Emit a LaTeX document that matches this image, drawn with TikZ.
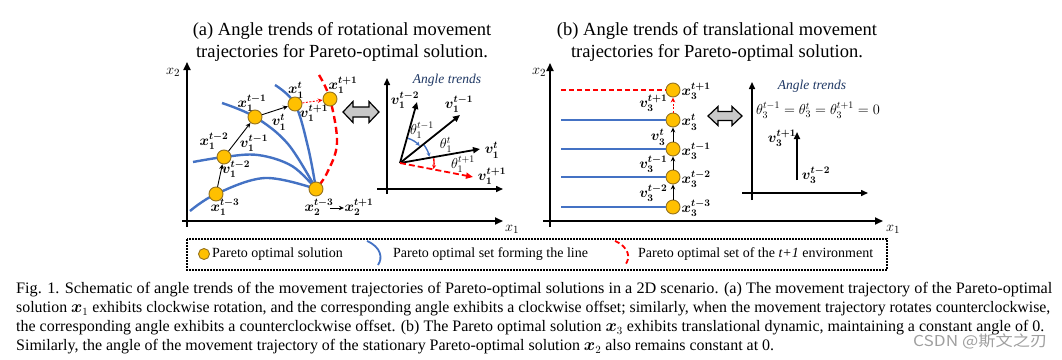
\documentclass[tikz,border=0pt]{standalone}
\usepackage{amsmath}
\usepackage{bm}
\usepackage{graphicx}
\usepackage{fontspec}
\setmainfont{Liberation Serif}
\newfontfamily\cjkfont{Noto Sans CJK SC}
\usetikzlibrary{arrows.meta}
\definecolor{paretoblue}{RGB}{68,114,196}
\definecolor{solfill}{RGB}{255,192,0}
\definecolor{soledge}{RGB}{150,115,30}
\definecolor{trendnavy}{RGB}{31,56,100}
\definecolor{swapgray}{RGB}{200,200,200}

\begin{document}
\begin{tikzpicture}[x=1pt, y=-1pt,
    solution/.style={circle, draw=soledge, fill=solfill, line width=0.9pt, minimum size=14pt, inner sep=0pt},
    front/.style={paretoblue, line width=2.4pt},
    nextfront/.style={red, line width=2.4pt, dash pattern=on 7pt off 4pt},
    move/.style={-{Stealth[length=5pt,width=4.5pt]}, line width=0.9pt},
    nextmove/.style={move, red, dash pattern=on 2pt off 1.5pt},
    axis/.style={-{Triangle[length=8pt,width=7pt]}, line width=1.8pt},
    inaxis/.style={-{Triangle[length=7pt,width=6pt]}, line width=1.5pt},
    vec/.style={-{Triangle[length=7pt,width=6pt]}, line width=1.8pt},
    turn/.style={paretoblue, line width=1.4pt, -{Stealth[length=4pt,width=4pt]}},
    swap/.style={draw=black, fill=swapgray, line width=1.2pt, line join=miter},
    lbl/.style={font=\boldmath\fontsize{14}{16}\selectfont, inner sep=0.5pt},
    ang/.style={font=\fontsize{14}{16}\selectfont, inner sep=0.5pt},
    axlbl/.style={font=\fontsize{15}{17}\selectfont, inner sep=0pt},
    title/.style={font=\fontsize{18.5}{22}\selectfont, anchor=base, inner sep=0pt},
    trend/.style={font=\itshape\fontsize{13.5}{16}\selectfont, text=trendnavy, inner sep=0pt},
    legend/.style={font=\fontsize{14}{16}\selectfont, anchor=west, inner sep=0pt},
    caption/.style={font=\fontsize{16}{19}\selectfont, anchor=base west, inner sep=0pt}]
 \useasboundingbox[fill=white] (0,0) rectangle (1062,359);

 \node[title] (titleA1) at (342,35) {(a) Angle trends of rotational movement};
 \node[title] (titleA2) at (342,57) {trajectories for Pareto-optimal solution.};
 \node[title] (titleB1) at (717,35) {(b) Angle trends of translational movement};
 \node[title] (titleB2) at (717,57) {trajectories for Pareto-optimal solution.};

 \coordinate (aY) at (187,62);
 \coordinate (aYb) at (187,227);
 \coordinate (aXl) at (182,221);
 \coordinate (aX) at (503,221);
 \draw[axis] (aYb) -- (aY);
 \draw[axis] (aXl) -- (aX);
 \node[axlbl] (ax2) at (173,72) {$x_2$};
 \node[axlbl] (ax1) at (512,229) {$x_1$};

 \draw[front] plot[smooth, tension=0.6] coordinates {(190,211) (216,194) (265,178) (316,189)};
 \draw[front] plot[smooth, tension=0.6] coordinates {(193,162) (224,157) (258,155) (292,166) (316,189)};
 \draw[front] plot[smooth, tension=0.6] coordinates {(222,103) (255,117) (288,144) (316,189)};
 \draw[front] plot[smooth, tension=0.6] coordinates {(275,85) (295,104) (308,147) (316,189)};
 \draw[nextfront] plot[smooth, tension=0.6] coordinates {(319,75) (330,99) (337,143) (327,173) (316,189)};

 \node[solution] (a3) at (216,194) {};
 \node[solution] (a2) at (224,157) {};
 \node[solution] (a1) at (255,117) {};
 \node[solution] (a0) at (295,104) {};
 \node[solution] (an) at (330,99) {};
 \node[solution] (s2) at (316,189) {};
 \draw[move] (a3) -- (a2);
 \draw[move] (a2) -- (a1);
 \draw[move] (a1) -- (a0);
 \draw[nextmove] (a0) -- (an);

 \node[lbl] (a3l) at (225,207) {$\bm{x}_1^{t-3}$};
 \node[lbl] (a2l) at (214,141) {$\bm{x}_1^{t-2}$};
 \node[lbl] (a1l) at (252,103) {$\bm{x}_1^{t-1}$};
 \node[lbl] (a0l) at (296,90) {$\bm{x}_1^{t}$};
 \node[lbl] (anl) at (343,85) {$\bm{x}_1^{t+1}$};
 \node[lbl] (v2l) at (236,169) {$\bm{v}_1^{t-2}$};
 \node[lbl] (v1l) at (254,143) {$\bm{v}_1^{t-1}$};
 \node[lbl] (v0l) at (279,122) {$\bm{v}_1^{t}$};
 \node[lbl] (vnl) at (314,113) {$\bm{v}_1^{t+1}$};
 \node[lbl] (s2l) at (319,207) {$\bm{x}_2^{t-3}$};
 \node[lbl] (s2n) at (359,207) {$\bm{x}_2^{t+1}$};
 \draw[move] ([xshift=-4pt,yshift=-1pt]s2l.east) -- ([yshift=-1pt]s2n.west);

 \coordinate (swapA) at (361,112);
 \draw[swap] (swapA) ++(-18,0) -- ++(10,-10.5) -- ++(0,5.5) -- ++(16,0) -- ++(0,-5.5)
   -- ++(10,10.5) -- ++(-10,10.5) -- ++(0,-5.5) -- ++(-16,0) -- ++(0,5.5) -- cycle;

 \coordinate (iaY) at (387,78);
 \coordinate (iaYb) at (387,194);
 \coordinate (iaXl) at (377,189);
 \coordinate (iaX) at (503,189);
 \draw[inaxis] (iaYb) -- (iaY);
 \draw[inaxis] (iaXl) -- (iaX);
 \node[trend] (trendA) at (447,80) {Angle trends};
 \coordinate (iaO) at (400,163);
 \coordinate (iv2) at (417,102);
 \coordinate (iv1) at (460,115);
 \coordinate (iv0) at (480,149);
 \coordinate (ivn) at (473,177);
 \draw[turn] (iaO) ++(-72:26) arc[start angle=-72, end angle=-41, radius=26];
 \draw[turn] (iaO) ++(-37:30) arc[start angle=-37, end angle=-12, radius=30];
 \draw[turn, red] (iaO) ++(-8:34) arc[start angle=-8, end angle=10, radius=34];
 \draw[vec] (iaO) -- (iv2);
 \draw[vec] (iaO) -- (iv1);
 \draw[vec] (iaO) -- (iv0);
 \draw[vec, red, dash pattern=on 6pt off 3pt] (iaO) -- (ivn);
 \node[lbl] (iv2l) at (405,100) {$\bm{v}_1^{t-2}$};
 \node[lbl] (iv1l) at (459,104) {$\bm{v}_1^{t-1}$};
 \node[lbl] (iv0l) at (492,150) {$\bm{v}_1^{t}$};
 \node[lbl] (ivnl) at (492,176) {$\bm{v}_1^{t+1}$};
 \node[ang] (th1) at (422,130) {$\theta_1^{t-1}$};
 \node[ang] (th0) at (446,145) {$\theta_1^{t}$};
 \node[ang] (thn) at (463,164) {$\theta_1^{t+1}$};

 \coordinate (bY) at (550,63);
 \coordinate (bYb) at (550,227);
 \coordinate (bXl) at (543,221);
 \coordinate (bX) at (883,221);
 \draw[axis] (bYb) -- (bY);
 \draw[axis] (bXl) -- (bX);
 \node[axlbl] (bx2) at (539,72) {$x_2$};
 \node[axlbl] (bx1) at (893,229) {$x_1$};

 \coordinate (b3s) at (561,207);
 \coordinate (b2s) at (561,177);
 \coordinate (b1s) at (561,149);
 \coordinate (b0s) at (561,120);
 \coordinate (bns) at (561,90);
 \node[solution] (b3) at (673,207) {};
 \node[solution] (b2) at (673,177) {};
 \node[solution] (b1) at (673,149) {};
 \node[solution] (b0) at (673,120) {};
 \node[solution] (bn) at (673,90) {};
 \draw[front] (b3s) -- (b3);
 \draw[front] (b2s) -- (b2);
 \draw[front] (b1s) -- (b1);
 \draw[front] (b0s) -- (b0);
 \draw[nextfront, line width=1.6pt, dash pattern=on 5pt off 3pt] (bns) -- (bn);
 \draw[move] (b3) -- (b2);
 \draw[move] (b2) -- (b1);
 \draw[move] (b1) -- (b0);
 \draw[nextmove] (b0) -- (bn);

 \node[lbl, anchor=west] (b3l) at (681,208) {$\bm{x}_3^{t-3}$};
 \node[lbl, anchor=west] (b2l) at (681,179) {$\bm{x}_3^{t-2}$};
 \node[lbl, anchor=west] (b1l) at (681,151) {$\bm{x}_3^{t-1}$};
 \node[lbl, anchor=west] (b0l) at (681,122) {$\bm{x}_3^{t}$};
 \node[lbl, anchor=west] (bnl) at (681,91) {$\bm{x}_3^{t+1}$};
 \node[lbl, anchor=east] (u2l) at (668,193) {$\bm{v}_3^{t-2}$};
 \node[lbl, anchor=east] (u1l) at (668,164) {$\bm{v}_3^{t-1}$};
 \node[lbl, anchor=east] (u0l) at (666,137) {$\bm{v}_3^{t}$};
 \node[lbl, anchor=east] (unl) at (668,103) {$\bm{v}_3^{t+1}$};

 \coordinate (swapB) at (725,116);
 \draw[swap] (swapB) ++(-17,0) -- ++(10,-9.5) -- ++(0,5) -- ++(14,0) -- ++(0,-5)
   -- ++(10,9.5) -- ++(-10,9.5) -- ++(0,-5) -- ++(-14,0) -- ++(0,5) -- cycle;

 \coordinate (ibY) at (752,82);
 \coordinate (ibYb) at (752,200);
 \coordinate (ibXl) at (742,193);
 \coordinate (ibX) at (868,193);
 \draw[inaxis] (ibYb) -- (ibY);
 \draw[inaxis] (ibXl) -- (ibX);
 \node[trend] (trendB) at (812,86) {Angle trends};
 \node[ang] (eqB) at (818,110) {$\theta_3^{t-1}=\theta_3^{t}=\theta_3^{t+1}=0$};
 \coordinate (ibO) at (797,180);
 \coordinate (ibV) at (797,132);
 \draw[vec] (ibO) -- (ibV);
 \node[lbl] (ibVl) at (782,138) {$\bm{v}_3^{t+1}$};
 \node[lbl] (ibOl) at (816,175) {$\bm{v}_3^{t-2}$};

 \draw[line width=1.6pt, dash pattern=on 1.6pt off 1.4pt] (187,239) rectangle (887,270);
 \node[solution, minimum size=11pt] (legSol) at (204,254) {};
 \node[legend] (legSolT) at (212,254) {Pareto optimal solution};
 \coordinate (legB1) at (367,241);
 \coordinate (legB2) at (378,265);
 \draw[paretoblue, line width=1.8pt] (legB1) .. controls (381,247) and (383,258) .. (legB2);
 \node[legend] (legBT) at (393,254) {Pareto optimal set forming the line};
 \coordinate (legR1) at (615,241);
 \coordinate (legR2) at (625,265);
 \draw[red, line width=1.8pt, dash pattern=on 5pt off 3pt] (legR1) .. controls (629,247) and (631,258) .. (legR2);
 \node[legend] (legRT) at (638,254) {Pareto optimal set of the \textit{t+1} environment};

 \node[caption] (cap1) at (16,293) {\resizebox{1036pt}{\height}{Fig. 1. Schematic of angle trends of the movement trajectories of Pareto-optimal solutions in a 2D scenario. (a) The movement trajectory of the Pareto-optimal}};
 \node[caption] (cap2) at (16,312.5) {\resizebox{1034pt}{\height}{solution $\bm{x}_1$ exhibits clockwise rotation, and the corresponding angle exhibits a clockwise offset; similarly, when the movement trajectory rotates counterclockwise,}};
 \node[caption] (cap3) at (16,331.5) {\resizebox{1028pt}{\height}{the corresponding angle exhibits a counterclockwise offset. (b) The Pareto optimal solution $\bm{x}_3$ exhibits translational dynamic, maintaining a constant angle of 0.}};
 \node[caption] (cap4) at (16,350.5) {\resizebox{758pt}{\height}{Similarly, the angle of the movement trajectory of the stationary Pareto-optimal solution $\bm{x}_2$ also remains constant at 0.}};
 \node[anchor=base west, inner sep=0pt, text=gray, opacity=0.75, font=\cjkfont\fontsize{15}{17}\selectfont] (mark) at (913,346) {\resizebox{134pt}{\height}{CSDN @斯文之刃}};
\end{tikzpicture}
\end{document}
